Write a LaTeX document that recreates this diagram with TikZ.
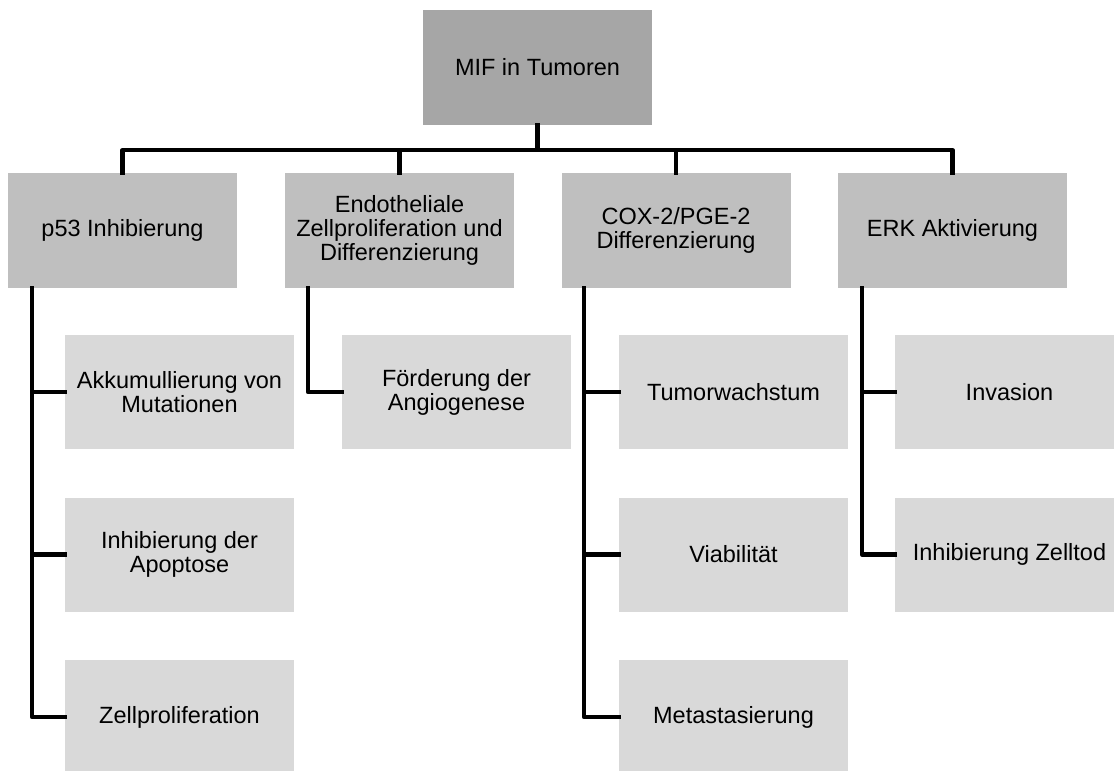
\documentclass[tikz,border=0pt]{standalone}
\usepackage{fontspec}
\setmainfont{Liberation Sans}
\usetikzlibrary{positioning}
\definecolor{topgray}{HTML}{A6A6A6}
\definecolor{midgray}{HTML}{BFBFBF}
\definecolor{lowgray}{HTML}{D9D9D9}
\begin{document}
\begin{tikzpicture}[x=1pt,y=-1pt,line cap=rect,line join=round,
  box/.style={inner sep=0pt,minimum width=229pt,minimum height=115pt,align=center,font=\fontsize{23.5}{24}\selectfont},
  mifbox/.style={box,fill=topgray},
  groupbox/.style={box,fill=midgray},
  effectbox/.style={box,fill=lowgray,minimum height=114pt},
  link/.style={line width=4.5pt}]
\useasboundingbox (0,0) rectangle (1114,771);
\node[mifbox] (mif) at (537.5,67.5) {MIF in Tumoren};
\node[groupbox] (p53) at (122.5,230.5) {p53 Inhibierung};
\node[groupbox] (endo) at (399.5,230.5) {Endotheliale\\Zellproliferation und\\Differenzierung};
\node[groupbox] (cox) at (676,230.5) {COX-2/PGE-2\\Differenzierung};
\node[groupbox] (erk) at (952.5,230.5) {ERK Aktivierung};
\node[effectbox] (akk) at (179.5,392) {Akkumullierung von\\Mutationen};
\node[effectbox] (apo) at (179.5,554.5) {Inhibierung der\\Apoptose};
\node[effectbox] (zell) at (179.5,717) {Zellproliferation};
\node[effectbox] (angio) at (456.5,392) {Förderung der\\Angiogenese};
\node[effectbox] (wachs) at (733.5,392) {Tumorwachstum};
\node[effectbox] (viab) at (733.5,554.5) {Viabilität};
\node[effectbox] (meta) at (733.5,717) {Metastasierung};
\node[effectbox] (inv) at (1009.5,392) {Invasion};
\node[effectbox] (tod) at (1009.5,554.5) {Inhibierung Zelltod};
\draw[link] (mif.south) -- ++(0,25) -| (p53.north);
\draw[link] (mif.south) -- ++(0,25) -| (endo.north);
\draw[link] (mif.south) -- ++(0,25) -| (cox.north);
\draw[link] (mif.south) -- ++(0,25) -| (erk.north);
\draw[link] ([xshift=-90.5pt]p53.south) |- (akk.west);
\draw[link] ([xshift=-90.5pt]p53.south) |- (apo.west);
\draw[link] ([xshift=-90.5pt]p53.south) |- (zell.west);
\draw[link] ([xshift=-91.5pt]endo.south) |- (angio.west);
\draw[link] ([xshift=-92pt]cox.south) |- (wachs.west);
\draw[link] ([xshift=-92pt]cox.south) |- (viab.west);
\draw[link] ([xshift=-92pt]cox.south) |- (meta.west);
\draw[link] ([xshift=-90.5pt]erk.south) |- (inv.west);
\draw[link] ([xshift=-90.5pt]erk.south) |- (tod.west);
\end{tikzpicture}
\end{document}
